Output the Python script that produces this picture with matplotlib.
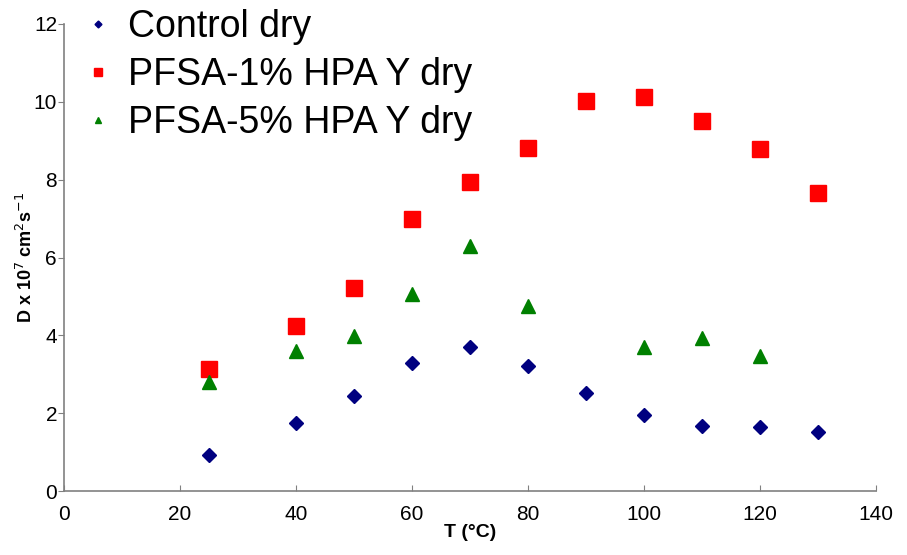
import matplotlib.pyplot as plt

T_CONTROL = [25, 40, 50, 60, 70, 80, 90, 100, 110, 120, 130]
D_CONTROL = [0.93, 1.75, 2.44, 3.29, 3.70, 3.21, 2.52, 1.95, 1.67, 1.65, 1.52]

T_HPA1 = [25, 40, 50, 60, 70, 80, 90, 100, 110, 120, 130]
D_HPA1 = [3.14, 4.24, 5.22, 6.99, 7.94, 8.82, 10.03, 10.13, 9.51, 8.79, 7.66]

T_HPA5 = [25, 40, 50, 60, 70, 80, 100, 110, 120]
D_HPA5 = [2.80, 3.60, 3.98, 5.06, 6.30, 4.76, 3.70, 3.93, 3.47]

XTICKS = [0, 20, 40, 60, 80, 100, 120, 140]
YTICKS = [0, 2, 4, 6, 8, 10, 12]


def main():
    plt.rcParams['font.family'] = ['Liberation Sans', 'DejaVu Sans']
    fig = plt.figure(figsize=(9.07, 5.55), dpi=100)
    ax = fig.add_axes([0.0706, 0.115, 0.8953, 0.842])

    ax.plot(T_CONTROL, D_CONTROL, linestyle='none', marker='D', color='#000080',
            markersize=7, label='Control dry')
    ax.plot(T_HPA1, D_HPA1, linestyle='none', marker='s', color='#FF0000',
            markersize=11, label='PFSA-1% HPA Y dry')
    ax.plot(T_HPA5, D_HPA5, linestyle='none', marker='^', color='#008000',
            markersize=10, label='PFSA-5% HPA Y dry')

    ax.set_xlim(0, 140)
    ax.set_ylim(0, 12)
    ax.set_xticks(XTICKS)
    ax.set_yticks(YTICKS)
    ax.tick_params(axis='x', direction='in', length=4, color='#808080',
                   labelsize=15, pad=10)
    ax.tick_params(axis='y', direction='out', length=4, color='#808080',
                   labelsize=15, pad=1)

    for side in ['top', 'right']:
        ax.spines[side].set_visible(False)
    for side in ['left', 'bottom']:
        ax.spines[side].set_color('#808080')
        ax.spines[side].set_linewidth(1.2)

    ax.set_xlabel('T (°C)', fontsize=14, fontweight='bold', labelpad=0)
    ax.set_ylabel('D x 10$^7$ cm$^2$s$^{-1}$', fontsize=13, fontweight='bold',
                  labelpad=-2)

    leg = fig.legend(loc='upper left', bbox_to_anchor=(0.05, 1.045),
                     fontsize=27, markerscale=0.5, frameon=False,
                     handlelength=1.0, handletextpad=0.3, labelspacing=0.32)
    leg.set_zorder(5)

    fig.savefig('out.png', dpi=100)


if __name__ == "__main__":
    main()
